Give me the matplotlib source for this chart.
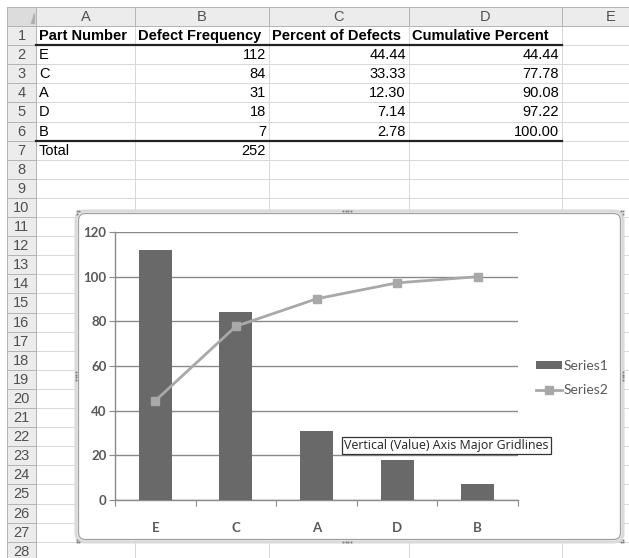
import numpy as np
import matplotlib
matplotlib.use('Agg')
import matplotlib.pyplot as plt
from matplotlib.patches import Rectangle, FancyBboxPatch
from matplotlib.lines import Line2D

# data (from the sheet)
parts = ['E', 'C', 'A', 'D', 'B']
freq = [112, 84, 31, 18, 7]
pct = [44.44, 33.33, 12.30, 7.14, 2.78]
cum_pct = [44.44, 77.78, 90.08, 97.22, 100.00]
headers = ['Part Number', 'Defect Frequency', 'Percent of Defects', 'Cumulative Percent']
col_letters = ['A', 'B', 'C', 'D', 'E']
yticks = [0, 20, 40, 60, 80, 100, 120]

W, H = 629, 558
fig = plt.figure(figsize=(W / 100, H / 100), dpi=100)
fig.patch.set_facecolor('white')

# sheet drawn in pixel coordinates
bg = fig.add_axes([0, 0, 1, 1])
bg.set_xlim(0, W)
bg.set_ylim(H, 0)
bg.axis('off')

col_edges = [7, 36, 135, 269, 409, 562, 660]
hdr_top, hdr_bot = 7, 26
row_h = 19.1
n_rows = 28
row_tops = [hdr_bot + i * row_h for i in range(n_rows + 1)]

grid_c = '#d9d9d9'
head_c = '#b5b5b5'
px = 0.72  # one pixel in points

# header backgrounds
bg.add_patch(Rectangle((col_edges[0], hdr_top), W, hdr_bot - hdr_top,
                       facecolor='#ececec', edgecolor='none', zorder=1))
bg.add_patch(Rectangle((col_edges[0], hdr_top), col_edges[1] - col_edges[0], H,
                       facecolor='#ececec', edgecolor='none', zorder=1))
bg.add_patch(Rectangle((col_edges[0] + 1, hdr_top + 1), 28, 18,
                       facecolor='#dcdcdc', edgecolor='none', zorder=1))
bg.fill([31, 34, 34], [23, 23, 13], color='#b0b0b0', zorder=2)

# sheet gridlines
for y in row_tops[1:]:
    bg.plot([col_edges[1], W], [y, y], color=grid_c, lw=px, zorder=2)
    bg.plot([col_edges[0], col_edges[1]], [y, y], color=head_c, lw=px, zorder=2)
for x in col_edges[2:-1]:
    bg.plot([x, x], [hdr_bot, H], color=grid_c, lw=px, zorder=2)
    bg.plot([x, x], [hdr_top, hdr_bot], color=head_c, lw=px, zorder=2)
bg.plot([col_edges[0], W], [hdr_top, hdr_top], color=head_c, lw=px, zorder=2)
bg.plot([col_edges[0], W], [hdr_bot, hdr_bot], color=head_c, lw=px, zorder=2)
bg.plot([col_edges[0], col_edges[0]], [hdr_top, H], color=head_c, lw=px, zorder=2)
bg.plot([col_edges[1], col_edges[1]], [hdr_top, H], color=head_c, lw=px, zorder=2)

sheet_font = 'Liberation Sans'
for i, letter in enumerate(col_letters):
    xc = (col_edges[i + 1] + col_edges[i + 2]) / 2
    bg.text(xc, (hdr_top + hdr_bot) / 2 + 0.5, letter, ha='center', va='center',
            fontsize=10.5, color='#505050', family=sheet_font, zorder=3)
for r in range(n_rows):
    yc = row_tops[r] + row_h / 2 + 0.5
    bg.text(21.5, yc, str(r + 1), ha='center', va='center',
            fontsize=10.5, color='#505050', family=sheet_font, zorder=3)


def cell(row, col, s, align='left', bold=False):
    yc = row_tops[row - 1] + row_h / 2 + 0.5
    if align == 'left':
        x = col_edges[col + 1] + 3
    else:
        x = col_edges[col + 2] - 3
    bg.text(x, yc, s, ha=align, va='center', fontsize=10.5, color='black',
            family=sheet_font, fontweight='bold' if bold else 'normal', zorder=3)


for j, h in enumerate(headers):
    cell(1, j, h, bold=True)
for i in range(len(parts)):
    cell(i + 2, 0, parts[i])
    cell(i + 2, 1, str(freq[i]), 'right')
    cell(i + 2, 2, f'{pct[i]:.2f}', 'right')
    cell(i + 2, 3, f'{cum_pct[i]:.2f}', 'right')
cell(7, 0, 'Total')
cell(7, 1, str(sum(freq)), 'right')

for y in (row_tops[1], row_tops[6]):
    bg.plot([col_edges[1], col_edges[5]], [y, y], color='#222222', lw=1.6, zorder=3)

# chart frame
cx0, cy0, cx1, cy1 = 76, 211, 623, 542
bg.add_patch(FancyBboxPatch((cx0, cy0), cx1 - cx0, cy1 - cy0,
                            boxstyle='round,pad=0,rounding_size=9',
                            facecolor='white', edgecolor='#dadada', lw=2.2, zorder=5))
bg.add_patch(FancyBboxPatch((cx0 + 2.5, cy0 + 2.5), cx1 - cx0 - 5, cy1 - cy0 - 5,
                            boxstyle='round,pad=0,rounding_size=7',
                            facecolor='white', edgecolor='#a0a0a0', lw=0.9, zorder=6))

# plot area: left 115, right 518, top 232 (120), bottom 500 (0)
ax = fig.add_axes([115 / W, (H - 500) / H, 403 / W, 268 / H])
ax.set_facecolor('white')
x = np.arange(len(parts))
ax.bar(x, freq, width=0.41, color='#696969', zorder=3, label='Series1')
ax.plot(x, cum_pct, color='#a8a8a8', lw=2, marker='s', ms=6,
        zorder=4, label='Series2')
ax.set_xlim(-0.5, len(parts) - 0.5)
ax.set_ylim(0, 120)
ax.set_yticks(yticks)
ax.grid(axis='y', color='#8a8a8a', lw=1.0, zorder=0)
ax.set_axisbelow(True)
for s in ('top', 'right'):
    ax.spines[s].set_visible(False)
for s in ('left', 'bottom'):
    ax.spines[s].set_color('#8a8a8a')
    ax.spines[s].set_linewidth(1.0)

chart_font = 'Lato'
ax.set_xticks(np.arange(-0.5, len(parts), 1))
ax.set_xticklabels([])
ax.set_xticks(x, minor=True)
ax.set_xticklabels(parts, minor=True)
ax.tick_params(axis='x', which='major', length=4, color='#8a8a8a', direction='out')
ax.tick_params(axis='x', which='minor', length=0, pad=16)
ax.tick_params(axis='y', length=4, color='#8a8a8a', pad=2)
for lab in ax.get_xticklabels(minor=True) + ax.get_yticklabels():
    lab.set_family(chart_font)
    lab.set_fontweight('bold')
    lab.set_fontsize(9.5)
    lab.set_color('#595959')

handles = [Rectangle((0, 0), 1, 1, facecolor='#696969', edgecolor='none'),
           Line2D([], [], color='#a8a8a8', lw=2, marker='s', ms=6)]
leg = ax.legend(handles, ['Series1', 'Series2'], loc='center left',
                bbox_to_anchor=(523 / W, 1 - 378 / H), bbox_transform=fig.transFigure,
                frameon=False, handlelength=1.9, handleheight=0.55,
                handletextpad=0.15, labelspacing=0.9,
                prop={'family': chart_font, 'size': 10})
for t in leg.get_texts():
    t.set_color('#595959')

# overlay: tooltip and frame handles
top = fig.add_axes([0, 0, 1, 1], zorder=10)
top.set_xlim(0, W)
top.set_ylim(H, 0)
top.axis('off')
top.text(344, 445.5, 'Vertical (Value) Axis Major Gridlines', ha='left', va='center',
         fontsize=8.9, family='Open Sans', color='#222222',
         bbox=dict(boxstyle='square,pad=0.2', facecolor='white', edgecolor='#333333', lw=0.9))


def dots(xs, ys):
    top.plot(xs, ys, 's', color='#7a7a7a', ms=1.3, mew=0)


dots([343, 345.5, 348, 350.5], [211] * 4)
dots([343, 345.5, 348, 350.5], [542] * 4)
dots([76] * 4, [372, 374.5, 377, 379.5])
dots([623] * 4, [372, 374.5, 377, 379.5])
dots([77, 79, 77], [211, 211, 213.5])
dots([621, 623, 623], [211, 211, 213.5])
dots([77, 79, 77], [542, 542, 539.5])
dots([621, 623, 623], [542, 542, 539.5])

fig.savefig('out.png', dpi=100)
